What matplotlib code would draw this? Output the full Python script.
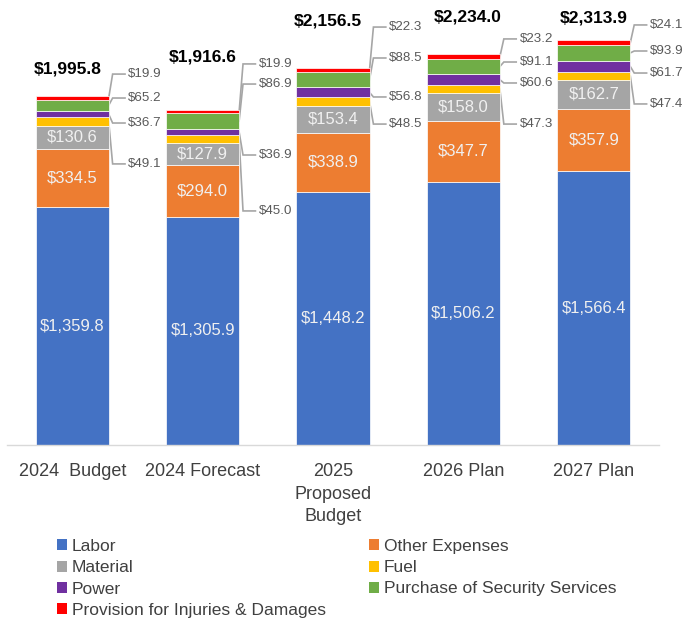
import matplotlib
matplotlib.use('Agg')
import matplotlib.pyplot as plt
from matplotlib.patches import Patch
import numpy as np

# ---------------- data ----------------
categories = ["2024  Budget", "2024 Forecast", "2025\nProposed\nBudget", "2026 Plan", "2027 Plan"]
series_names = ["Labor", "Other Expenses", "Material", "Fuel", "Power",
                "Purchase of Security Services", "Provision for Injuries & Damages"]
labor = [1359.8, 1305.9, 1448.2, 1506.2, 1566.4]
other_expenses = [334.5, 294.0, 338.9, 347.7, 357.9]
material = [130.6, 127.9, 153.4, 158.0, 162.7]
fuel = [49.1, 45.0, 48.5, 47.3, 47.4]
power = [36.7, 36.9, 56.8, 60.6, 61.7]
security = [65.2, 86.9, 88.5, 91.1, 93.9]
injuries = [19.9, 19.9, 22.3, 23.2, 24.1]
totals = [1995.8, 1916.6, 2156.5, 2234.0, 2313.9]

colors = ["#4472C4", "#ED7D31", "#A5A5A5", "#FFC000", "#7030A0", "#70AD47", "#FF0000"]

# ---------------- layout (label placement) ----------------
callout_y = {
    3: [1608, 1339, 1836, 1836, 1951],   # fuel
    4: [1842, 1659, 1991, 2071, 2128],   # power
    5: [1985, 2065, 2214, 2191, 2254],   # security
    6: [2122, 2180, 2391, 2323, 2403],   # injuries
}
total_y = [2151, 2220, 2426, 2449, 2443]
total_dx = [-0.035, 0.0, -0.04, 0.03, 0.0]

REG = ['Liberation Sans', 'DejaVu Sans']
plt.rcParams['font.family'] = REG

W, H = 683, 622
fig = plt.figure(figsize=(W / 100, H / 100), dpi=100)
ax = fig.add_axes([7 / W, 177 / H, 652 / W, 437 / H])

series = [labor, other_expenses, material, fuel, power, security, injuries]
x = np.arange(len(categories))
bw = 0.56
bottom = np.zeros(len(categories))
bottoms = []
for vals, col, name in zip(series, colors, series_names):
    vals = np.array(vals)
    ax.bar(x, vals, bw, bottom=bottom, color=col, edgecolor='white', linewidth=0.5, label=name, zorder=2)
    bottoms.append(bottom.copy())
    bottom = bottom + vals

# inside labels
for k in range(3):
    for i in range(len(categories)):
        v = series[k][i]
        ax.text(x[i], bottoms[k][i] + v / 2, f"${v:,.1f}", ha='center', va='center',
                color='#F0F0F0', fontsize=12, zorder=3)

# callouts
for k, ys in callout_y.items():
    for i in range(len(categories)):
        v = series[k][i]
        yseg = bottoms[k][i] + v / 2
        xr = x[i] + bw / 2
        yl = ys[i]
        ax.plot([xr, x[i] + 0.31, x[i] + 0.405], [yseg, yl, yl], color='#A6A6A6',
                lw=1.2, clip_on=False, zorder=1, solid_joinstyle='miter')
        ax.text(x[i] + 0.43, yl, f"${v:,.1f}", ha='left', va='center', color='#595959',
                fontsize=9.6)

# totals
for i in range(len(categories)):
    ax.text(x[i] + total_dx[i], total_y[i], f"${totals[i]:,.1f}", ha='center', va='center',
            fontsize=12.5, fontweight='bold', color='black')

ax.set_xlim(-0.5, len(categories) - 0.5)
ax.set_ylim(0, 2500)
for s in ['top', 'right', 'left']:
    ax.spines[s].set_visible(False)
ax.spines['bottom'].set_color('#D9D9D9')
ax.spines['bottom'].set_linewidth(1.0)
ax.set_yticks([])
ax.set_xticks(x)
ax.set_xticklabels(categories, fontsize=13, color='#404040', linespacing=1.42)
ax.tick_params(axis='x', length=0, pad=13)

handles = [Patch(facecolor=c, edgecolor='none') for c in colors]
left_idx = [0, 2, 4, 6]
right_idx = [1, 3, 5]
common = dict(loc='upper left', frameon=False, handlelength=0.6, handleheight=0.6,
              handletextpad=0.25, labelspacing=0.36, borderpad=0, borderaxespad=0,
              prop={'size': 12.5}, labelcolor='#404040')
fig.legend([handles[i] for i in left_idx], [series_names[i] for i in left_idx],
           bbox_to_anchor=(57 / W, 1 - 539 / H), **common)
fig.legend([handles[i] for i in right_idx], [series_names[i] for i in right_idx],
           bbox_to_anchor=(369 / W, 1 - 539 / H), **common)

fig.savefig('out.png', dpi=100)
